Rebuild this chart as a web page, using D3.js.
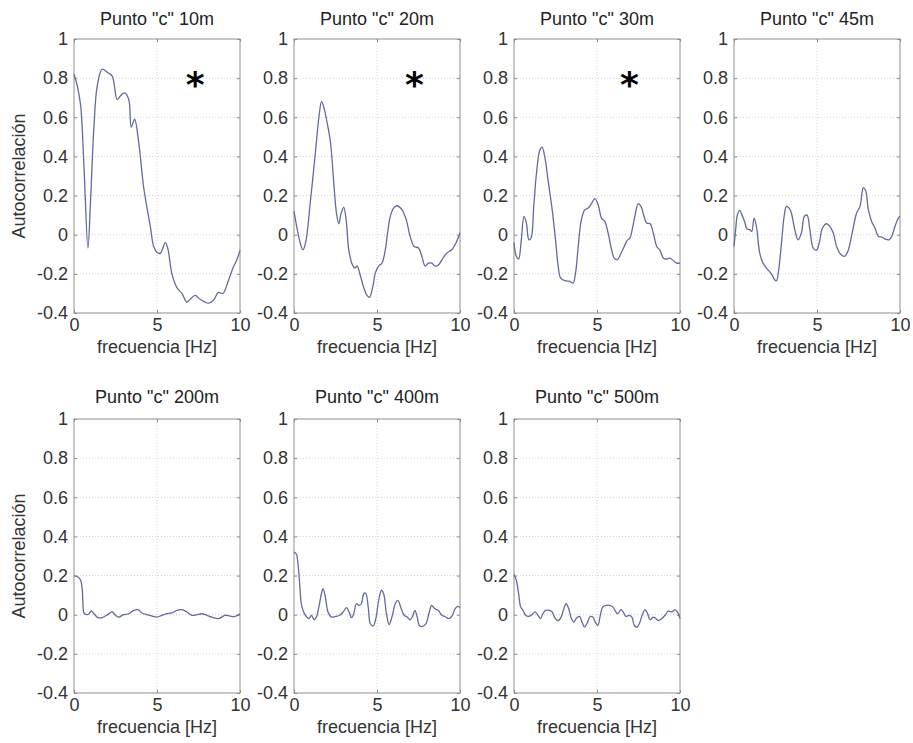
<!DOCTYPE html>
<html><head><meta charset="utf-8">
<script src="https://cdn.jsdelivr.net/npm/d3@7"></script>
<style>body{margin:0;background:#fff}svg{display:block}</style>
</head><body><svg id="c" width="913" height="743"></svg>
<script>
// ---------------- DATA ----------------
const titles = ['Punto "c" 10m','Punto "c" 20m','Punto "c" 30m','Punto "c" 45m','Punto "c" 200m','Punto "c" 400m','Punto "c" 500m'];
const xTicks = [0,5,10];
const xTickLabels = ["0","5","10"];
const yTicks = [-0.4,-0.2,0,0.2,0.4,0.6,0.8,1];
const yTickLabels = ["-0.4","-0.2","0","0.2","0.4","0.6","0.8","1"];
const xLabel = "frecuencia [Hz]";
const yLabel = "Autocorrelación";
const starPanels = [0,1,2];
const starF = [7.3,7.25,6.95];
const starV = [0.82,0.82,0.82];

const f10 = [0,0.04,0.2,0.4,0.6,0.84,1.0,1.2,1.4,1.7,2.0,2.3,2.6,2.8,3.05,3.3,3.45,3.65,3.9,4.2,4.6,4.8,5.0,5.2,5.5,5.65,5.9,6.2,6.5,6.8,7.0,7.3,7.6,8.1,8.4,8.7,8.97,9.3,9.6,9.8,10];
const v10 = [0.82,0.81,0.76,0.66,0.35,-0.068,0.18,0.55,0.76,0.846,0.83,0.81,0.69,0.71,0.725,0.69,0.55,0.59,0.47,0.24,0.04,-0.06,-0.09,-0.095,-0.04,-0.07,-0.2,-0.27,-0.30,-0.345,-0.33,-0.31,-0.33,-0.35,-0.335,-0.295,-0.30,-0.235,-0.165,-0.13,-0.08];

const f20 = [0,0.2,0.4,0.54,0.7,1.0,1.3,1.5,1.66,1.8,2.0,2.2,2.4,2.56,2.7,2.84,3.0,3.14,3.3,3.5,3.66,3.8,4.0,4.2,4.4,4.55,4.76,4.9,5.1,5.3,5.5,5.64,5.8,6.0,6.2,6.5,6.76,7.0,7.24,7.5,7.7,7.9,8.1,8.3,8.5,8.7,8.9,9.2,9.5,9.8,10];
const v20 = [0.12,0.025,-0.05,-0.077,-0.04,0.18,0.43,0.60,0.68,0.65,0.57,0.47,0.26,0.11,0.056,0.11,0.14,0.077,-0.077,-0.15,-0.17,-0.16,-0.21,-0.27,-0.31,-0.32,-0.26,-0.195,-0.16,-0.145,-0.077,0.01,0.094,0.136,0.148,0.128,0.077,-0.01,-0.06,-0.068,-0.11,-0.16,-0.145,-0.145,-0.16,-0.155,-0.13,-0.094,-0.077,-0.034,0.01];

const f30 = [0,0.14,0.28,0.44,0.6,0.74,0.9,1.03,1.19,1.35,1.55,1.69,1.85,2.05,2.3,2.5,2.66,2.8,3.06,3.36,3.56,3.72,3.86,4.06,4.27,4.47,4.67,4.87,5.07,5.27,5.47,5.67,5.88,6.04,6.22,6.42,6.64,6.82,6.98,7.12,7.28,7.48,7.65,7.83,7.99,8.2,8.39,8.6,8.8,9.0,9.2,9.4,9.64,9.8,10];
const v30 = [-0.04,-0.11,-0.124,-0.026,0.094,0.063,-0.026,-0.017,0.145,0.31,0.43,0.447,0.40,0.28,0.128,-0.026,-0.16,-0.22,-0.235,-0.238,-0.247,-0.187,-0.068,0.077,0.128,0.136,0.16,0.184,0.153,0.085,0.068,0.009,-0.077,-0.12,-0.128,-0.10,-0.06,-0.029,-0.017,0.026,0.094,0.158,0.145,0.094,0.06,0.056,0.009,-0.06,-0.08,-0.12,-0.124,-0.12,-0.136,-0.145,-0.145];

const f45 = [0,0.1,0.2,0.34,0.48,0.64,0.78,0.95,1.07,1.21,1.35,1.55,1.75,2.05,2.25,2.45,2.56,2.68,2.86,3.02,3.16,3.32,3.46,3.66,3.86,4.06,4.24,4.4,4.57,4.77,4.97,5.13,5.33,5.57,5.77,5.98,6.18,6.42,6.68,6.88,7.12,7.38,7.59,7.79,7.93,8.09,8.29,8.49,8.7,8.9,9.1,9.34,9.5,9.7,9.9,10];
const v45 = [-0.06,0.026,0.10,0.124,0.10,0.068,0.03,0.026,0.017,0.085,0.043,-0.094,-0.145,-0.18,-0.20,-0.23,-0.235,-0.187,-0.043,0.094,0.145,0.136,0.11,0.026,-0.026,0.009,0.094,0.10,0.026,-0.068,-0.08,-0.043,0.034,0.056,0.043,0.009,-0.06,-0.10,-0.11,-0.08,0.009,0.11,0.145,0.24,0.226,0.128,0.068,0.034,-0.009,-0.012,-0.022,-0.026,-0.009,0.043,0.085,0.094];

const f200 = [0,0.24,0.4,0.5,0.54,0.6,0.76,0.9,1.04,1.2,1.45,1.7,1.97,2.3,2.5,2.7,2.97,3.3,3.6,3.85,4.1,4.4,4.7,5.0,5.3,5.6,5.9,6.2,6.5,6.8,7.1,7.4,7.7,8.0,8.3,8.7,8.9,9.1,9.4,9.7,10];
const v200 = [0.198,0.193,0.176,0.125,0.056,0.009,0.0,0.005,0.019,0.005,-0.015,-0.015,-0.003,0.014,-0.003,-0.012,0.0,0.005,0.022,0.026,0.009,0.0,-0.007,-0.012,-0.003,0.005,0.009,0.022,0.026,0.014,-0.003,0.0,0.005,-0.003,-0.012,-0.02,-0.012,-0.003,-0.007,-0.009,0.005];

const f400 = [0,0.14,0.24,0.34,0.44,0.58,0.74,0.9,1.05,1.21,1.35,1.5,1.65,1.75,1.89,2.05,2.25,2.5,2.76,2.96,3.16,3.32,3.46,3.6,3.76,3.92,4.06,4.2,4.32,4.47,4.6,4.77,4.93,5.1,5.27,5.4,5.57,5.73,5.9,6.1,6.26,6.46,6.64,6.82,6.98,7.14,7.28,7.42,7.55,7.75,7.95,8.15,8.29,8.49,8.7,8.9,9.1,9.3,9.5,9.7,9.86,10];
const v400 = [0.32,0.31,0.26,0.16,0.056,0.014,-0.009,-0.02,-0.003,-0.026,-0.012,0.04,0.107,0.133,0.09,0.014,-0.012,-0.009,-0.003,0.014,0.036,0.014,-0.015,0.005,0.056,0.048,0.056,0.107,0.11,0.04,-0.046,-0.058,-0.02,0.073,0.125,0.107,0.005,-0.05,-0.012,0.056,0.073,0.03,-0.003,-0.012,-0.026,-0.009,0.022,-0.012,-0.055,-0.06,-0.046,0.014,0.048,0.03,0.022,-0.003,-0.009,-0.02,-0.009,0.03,0.043,0.036];

const f500 = [0,0.14,0.28,0.4,0.54,0.7,0.88,1.08,1.28,1.44,1.6,1.74,1.9,2.14,2.3,2.44,2.64,2.84,3.0,3.14,3.3,3.44,3.6,3.74,3.94,4.1,4.25,4.39,4.59,4.75,4.9,5.05,5.2,5.35,5.55,5.75,5.95,6.1,6.24,6.44,6.58,6.74,6.94,7.1,7.25,7.41,7.55,7.72,7.9,8.05,8.2,8.38,8.55,8.7,8.9,9.1,9.3,9.5,9.7,9.84,10];
const v500 = [0.206,0.176,0.107,0.04,0.022,-0.003,-0.009,0.0,0.014,-0.003,-0.02,0.005,0.022,0.022,0.014,-0.012,-0.03,-0.012,0.03,0.056,0.03,-0.015,-0.038,-0.02,-0.009,-0.038,-0.063,-0.046,-0.009,-0.012,-0.038,-0.055,-0.003,0.04,0.048,0.048,0.04,0.019,0.005,0.026,0.014,-0.009,-0.003,-0.012,-0.055,-0.063,-0.046,-0.003,0.026,0.005,-0.026,-0.012,-0.02,-0.03,-0.02,-0.003,0.019,0.014,0.026,0.014,-0.02];

const seriesF = [f10,f20,f30,f45,f200,f400,f500];
const seriesV = [v10,v20,v30,v45,v200,v400,v500];

// ---------------- LAYOUT ----------------
const svg = d3.select("#c");
const W = 166, H = 274;
const lefts = [74,294,514,734,74,294,514];
const tops  = [39,39,39,39,419,419,419];
const titleOff = [-14,-14,-14,-14,-16,-16,-16];
const font = "Liberation Sans, Arial, sans-serif";
const fs = "18px";
const lineColor = "#636a9e";

seriesF.forEach((fArr, i) => {
  const g = svg.append("g").attr("transform", `translate(${lefts[i]},${tops[i]})`);
  const x = d3.scaleLinear().domain([0,10]).range([0,W]);
  const y = d3.scaleLinear().domain([-0.4,1]).range([H,0]);

  // grid
  g.append("g").selectAll("line").data(xTicks.filter(t => t>0 && t<10)).join("line")
    .attr("x1", d=>x(d)).attr("x2", d=>x(d)).attr("y1",0).attr("y2",H)
    .attr("stroke","#c4c4c4").attr("stroke-width",0.8).attr("stroke-dasharray","1,2");
  g.append("g").selectAll("line").data(yTicks.filter(t => t>-0.4 && t<1)).join("line")
    .attr("x1",0).attr("x2",W).attr("y1", d=>y(d)).attr("y2", d=>y(d))
    .attr("stroke","#c4c4c4").attr("stroke-width",0.8).attr("stroke-dasharray","1,2");

  // axes
  const axL = d3.axisLeft(y).tickValues(yTicks).tickFormat((d,k)=>yTickLabels[k]).tickSizeInner(-3).tickSizeOuter(0).tickPadding(6);
  const axB = d3.axisBottom(x).tickValues(xTicks).tickFormat((d,k)=>xTickLabels[k]).tickSizeInner(-3).tickSizeOuter(0).tickPadding(5);
  const axR = d3.axisRight(y).tickValues(yTicks).tickFormat("").tickSizeInner(-3).tickSizeOuter(0);
  const axT = d3.axisTop(x).tickValues(xTicks).tickFormat("").tickSizeInner(-3).tickSizeOuter(0);
  const gl = g.append("g").call(axL);
  const gb = g.append("g").attr("transform",`translate(0,${H})`).call(axB);
  g.append("g").attr("transform",`translate(${W},0)`).call(axR);
  g.append("g").call(axT);
  g.selectAll(".domain").remove();
  g.selectAll(".tick line").attr("stroke","#8a8a8a");
  g.selectAll(".tick text").attr("fill","#333").style("font-family",font).style("font-size",fs);

  g.append("rect").attr("width",W).attr("height",H).attr("fill","none").attr("stroke","#8f8f8f").attr("stroke-width",1);

  // line
  const pts = fArr.map((f,k)=>[f, seriesV[i][k]]);
  g.append("path").datum(pts)
    .attr("d", d3.line().x(d=>x(d[0])).y(d=>y(d[1])).curve(d3.curveCatmullRom.alpha(0.5)))
    .attr("fill","none").attr("stroke",lineColor).attr("stroke-width",1.3);

  // title
  g.append("text").attr("x",W/2).attr("y",titleOff[i]).attr("text-anchor","middle")
    .style("font-family",font).style("font-size",fs).attr("fill","#222").text(titles[i]);
  // x label
  g.append("text").attr("x",W/2).attr("y",H+40).attr("text-anchor","middle")
    .style("font-family",font).style("font-size",fs).attr("fill","#333").text(xLabel);
  // y label on first column
  if (lefts[i] === 74) {
    g.append("text").attr("transform",`translate(${-49},${H/2}) rotate(-90)`).attr("text-anchor","middle")
      .style("font-family",font).style("font-size",fs).attr("fill","#333").text(yLabel);
  }
  // star
  const si = starPanels.indexOf(i);
  if (si >= 0) {
    g.append("text").attr("x", x(starF[si])).attr("y", y(starV[si])).attr("text-anchor","middle")
      .attr("dy","0.62em").style("font-family","DejaVu Sans, sans-serif").style("font-weight","bold").style("font-size","36px")
      .attr("fill","#000").text("*");
  }
});
</script></body></html>
